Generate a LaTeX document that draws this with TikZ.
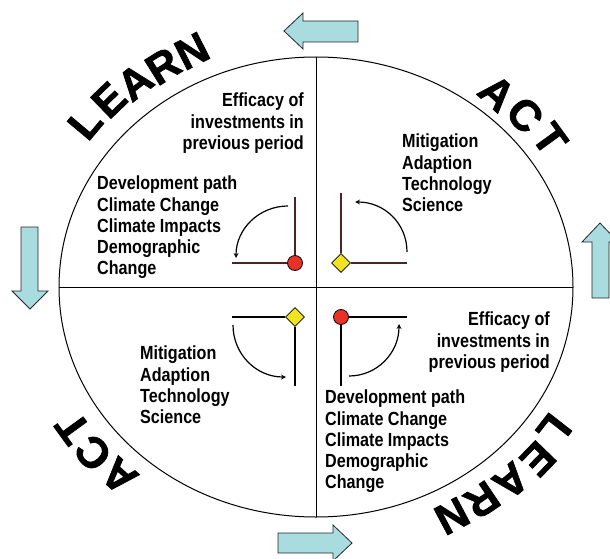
\documentclass[tikz,border=0pt]{standalone}
\usepackage{fontspec}
\setmainfont{Liberation Sans}
\newfontfamily\wordfont{Liberation Sans}[BoldFeatures={FakeBold=1.6}]
\usepackage{xcolor}
\usepackage{tikz}
\usetikzlibrary{shapes.geometric}
\definecolor{flowcyan}{RGB}{168, 220, 223}
\definecolor{dotred}{RGB}{232, 50, 40}
\definecolor{dotyellow}{RGB}{240, 228, 30}
\definecolor{axisbrown}{RGB}{72, 36, 36}

\begin{document}
\begin{tikzpicture}[x=1pt, y=-1pt, every node/.style={font=\fontsize{19}{21.2}\selectfont\bfseries, inner sep=0pt},
  listtext/.style={xscale=0.85},
  bigword/.style={font=\wordfont\fontsize{43}{43}\selectfont\bfseries},
  flow/.style={draw=black!85, fill=flowcyan, line width=0.8pt},
  turn/.style={->, >=stealth, line width=1.2pt}]
  \useasboundingbox (0,0) rectangle (610,559);

  % the cycle and its quadrants
  \draw[line width=1pt] (316,287) ellipse [x radius=257pt, y radius=230pt];
  \draw[line width=0.9pt] (316,57) -- (316,517);
  \draw[line width=0.9pt] (59,287) -- (573,287);

  % flow arrows round the cycle
  \draw[flow] (284,31) -- (303,13) -- (303,21) -- (358,21) -- (358,42) -- (303,42) -- (303,49) -- cycle;
  \draw[flow] (30,309) -- (48,291) -- (38,291) -- (38,227) -- (21,227) -- (21,291) -- (12,291) -- cycle;
  \draw[flow] (352,543) -- (333,525) -- (333,533) -- (278,533) -- (278,553) -- (333,553) -- (333,561) -- cycle;
  \draw[flow] (600,223) -- (618,242) -- (609,242) -- (609,298) -- (592,298) -- (592,242) -- (582,242) -- cycle;

  % big words
  \foreach \ch/\px/\py/\rot [count=\i] in {L/85/123/50, E/109/100/44, A/135/82/38, R/163/66/32, N/192/51/27}
    \node[bigword, rotate=\rot] (learnup\i) at (\px,\py) {\ch};
  \foreach \ch/\px/\py/\rot [count=\i] in {L/554/430/232, E/538/459/226, A/511/481/220, R/482/500/214, N/452/516/208}
    \node[bigword, rotate=\rot] (learndown\i) at (\px,\py) {\ch};
  \foreach \ch/\px/\py/\rot [count=\i] in {A/497/93/-42, C/525/115/-48, T/550/139/-54}
    \node[bigword, rotate=\rot] (actup\i) at (\px,\py) {\ch};
  \foreach \ch/\px/\py/\rot [count=\i] in {A/119/476/138, C/93/453/132, T/73/428/126}
    \node[bigword, rotate=\rot] (actdown\i) at (\px,\py) {\ch};

  % texts
  \node[listtext, anchor=north east, align=right] (effup) at (304,93) {Efficacy of\\investments in\\previous period};
  \node[listtext, anchor=north west, align=left] (devup) at (97,176) {Development path\\Climate Change\\Climate Impacts\\Demographic\\Change};
  \node[listtext, anchor=north west, align=left] (mitup) at (402,134) {Mitigation\\Adaption\\Technology\\Science};
  \node[listtext, anchor=north west, align=left] (mitdown) at (140,346) {Mitigation\\Adaption\\Technology\\Science};
  \node[listtext, anchor=north east, align=right] (effdown) at (550,312) {Efficacy of\\investments in\\previous period};
  \node[listtext, anchor=north west, align=left] (devdown) at (325,390) {Development path\\Climate Change\\Climate Impacts\\Demographic\\Change};

  % small decision marks
  \node[circle, draw, fill=dotred, minimum size=15pt, line width=0.8pt] (redul) at (295,263) {};
  \node[diamond, draw, fill=dotyellow, minimum size=19pt, line width=0.8pt] (yelur) at (341,263) {};
  \node[diamond, draw, fill=dotyellow, minimum size=19pt, line width=0.8pt] (yelll) at (295,317) {};
  \node[circle, draw, fill=dotred, minimum size=15pt, line width=0.8pt] (redlr) at (341,317) {};
  \coordinate (ultop) at (295,197);
  \coordinate (ulleft) at (232,263);
  \coordinate (urtop) at (341,193);
  \coordinate (urright) at (407,263);
  \coordinate (llleft) at (232,317);
  \coordinate (llbot) at (295,386);
  \coordinate (lrright) at (407,317);
  \coordinate (lrbot) at (341,386);
  \draw[axisbrown, line width=1.4pt] (ultop) -- (redul);
  \draw[axisbrown, line width=1.4pt] (ulleft) -- (redul);
  \draw[axisbrown, line width=1.4pt] (urtop) -- (yelur);
  \draw[axisbrown, line width=1.4pt] (urright) -- (yelur);
  \draw[line width=1.4pt] (llleft) -- (yelll);
  \draw[line width=1.4pt] (llbot) -- (yelll);
  \draw[line width=1.4pt] (lrright) -- (redlr);
  \draw[line width=1.4pt] (lrbot) -- (redlr);

  % turning arrows
  \draw[turn] (288,206) .. controls (259,206) and (236,229) .. (236,258);
  \draw[turn] (407,252) .. controls (407,223) and (384,202) .. (355,202);
  \draw[turn] (233,325) .. controls (233,354) and (256,377) .. (286,377);
  \draw[turn] (349,376) .. controls (377,376) and (399,353) .. (399,324);
\end{tikzpicture}
\end{document}
